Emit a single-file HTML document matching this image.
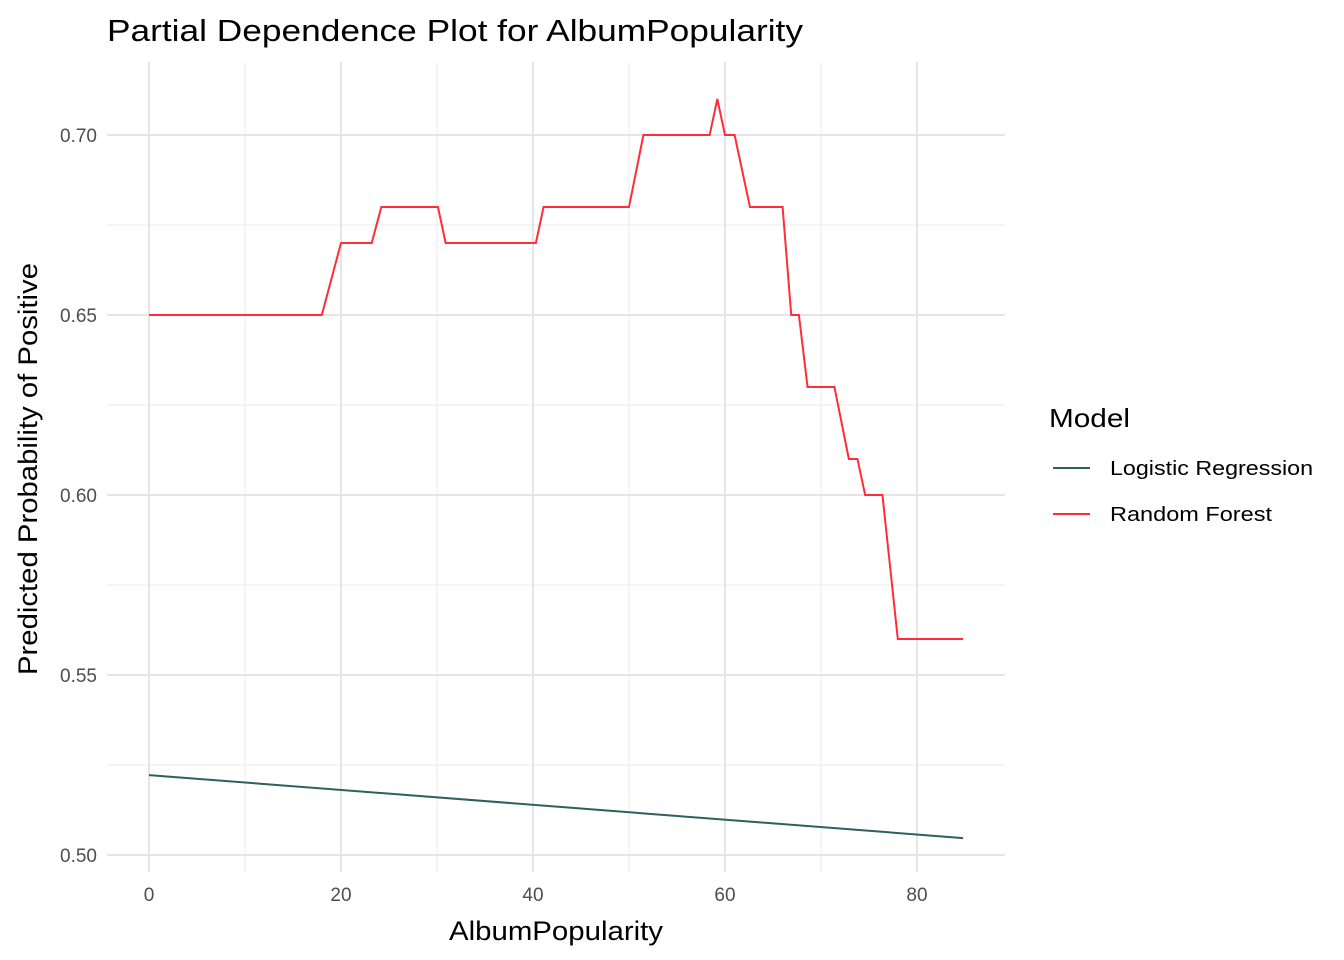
<!DOCTYPE html>
<html><head><meta charset="utf-8"><style>
body{margin:0;background:#fff;}
svg{display:block;font-family:"Liberation Sans",Arial,sans-serif;}
</style></head><body>
<svg id="chart" width="1344" height="960">
<text x="107" y="41" font-size="31" textLength="696" lengthAdjust="spacingAndGlyphs" fill="#000">Partial Dependence Plot for AlbumPopularity</text>
<g id="grid"></g>
<g id="series"></g>
<g id="ticks"></g>
<text x="449" y="940" font-size="27" textLength="214" lengthAdjust="spacingAndGlyphs" fill="#000">AlbumPopularity</text>
<text transform="translate(37,675) rotate(-90)" font-size="27" textLength="412" lengthAdjust="spacingAndGlyphs" fill="#000">Predicted Probability of Positive</text>
<g>
<text x="1049" y="427" font-size="26" textLength="81" lengthAdjust="spacingAndGlyphs" fill="#000">Model</text>
<g>
<line x1="1053" x2="1090" y1="468" y2="468" stroke="#2f5f5f" stroke-width="2"/>
<text x="1110" y="475" font-size="20" textLength="203" lengthAdjust="spacingAndGlyphs" fill="#000">Logistic Regression</text></g>
<g>
<line x1="1053" x2="1090" y1="514" y2="514" stroke="#ff2d3a" stroke-width="2"/>
<text x="1110" y="521" font-size="20" textLength="162" lengthAdjust="spacingAndGlyphs" fill="#000">Random Forest</text></g>
</g>
</svg>
<script>
const xTicks=[0,20,40,60,80];
const xMinor=[10,30,50,70];
const yTicks=[0.50,0.55,0.60,0.65,0.70];
const yMinor=[0.525,0.575,0.625,0.675];
const rfX=[0,18,20,23.2,24.2,30.1,30.9,40.3,41.1,50,51.5,58.4,59.2,60,61,62.6,66,66.9,67.7,68.6,71.4,72.9,73.8,74.6,76.4,78,84.8];
const rfY=[0.65,0.65,0.67,0.67,0.68,0.68,0.67,0.67,0.68,0.68,0.70,0.70,0.71,0.70,0.70,0.68,0.68,0.65,0.65,0.63,0.63,0.61,0.61,0.60,0.60,0.56,0.56];
const lrX=[0,84.8];
const lrY=[0.5222,0.5047];
const NS='http://www.w3.org/2000/svg';
const sx=v=>149+v*9.6;
const sy=v=>855-(v-0.5)*3600;
const L=107,R=1005,T=62,B=872;
function mk(tag,attrs,parent){const e=document.createElementNS(NS,tag);for(const k in attrs)e.setAttribute(k,attrs[k]);parent.appendChild(e);return e;}
const grid=document.getElementById('grid'),ticks=document.getElementById('ticks'),ser=document.getElementById('series');
xMinor.forEach(v=>{const l=mk('line',{x1:sx(v),x2:sx(v),y1:T,y2:B,stroke:'#ebebeb','stroke-width':1},grid);

});
yMinor.forEach(v=>{const l=mk('line',{x1:L,x2:R,y1:sy(v),y2:sy(v),stroke:'#ebebeb','stroke-width':1},grid);

});
xTicks.forEach(v=>{const l=mk('line',{x1:sx(v),x2:sx(v),y1:T,y2:B,stroke:'#e5e5e5','stroke-width':2},grid);


const t=mk('text',{x:sx(v),y:901,'font-size':19,'text-anchor':'middle',fill:'#4d4d4d'},ticks);t.textContent=v;

});
yTicks.forEach(v=>{const l=mk('line',{x1:L,x2:R,y1:sy(v),y2:sy(v),stroke:'#e5e5e5','stroke-width':2},grid);


const t=mk('text',{x:97,y:sy(v)+7,'font-size':19,'text-anchor':'end',fill:'#4d4d4d'},ticks);t.textContent=v.toFixed(2);

});
const lr=mk('polyline',{points:lrX.map((x,i)=>sx(x)+','+sy(lrY[i])).join(' '),fill:'none',stroke:'#2f5f5f','stroke-width':2},ser);


const rf=mk('polyline',{points:rfX.map((x,i)=>sx(x)+','+sy(rfY[i])).join(' '),fill:'none',stroke:'#ff2d3a','stroke-width':2},ser);


</script>
</body></html>
